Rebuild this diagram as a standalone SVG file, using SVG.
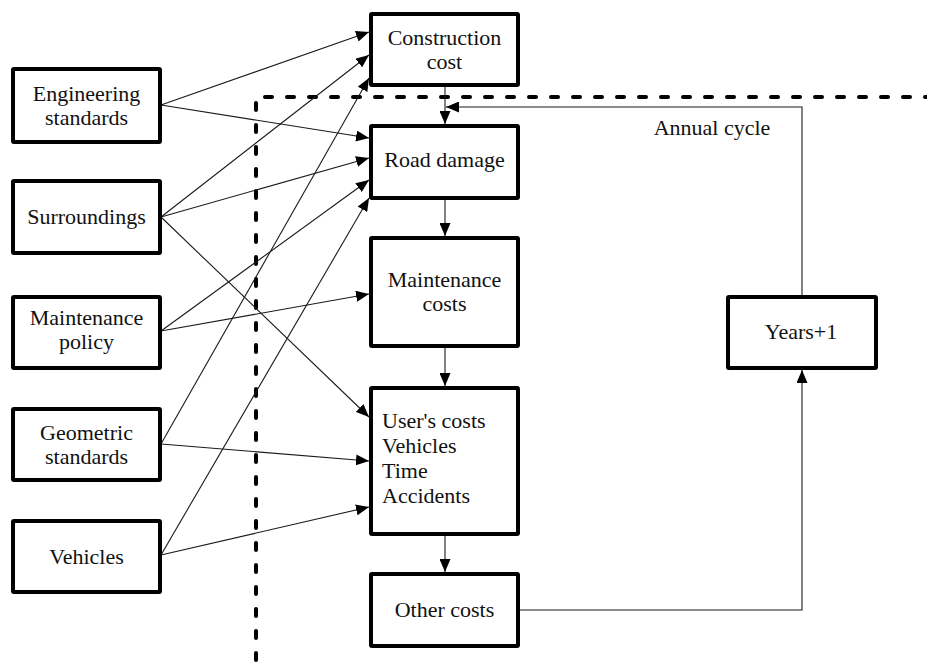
<svg xmlns="http://www.w3.org/2000/svg" width="927" height="663" viewBox="0 0 927 663">
<style>
.box{fill:#fff;stroke:#000;stroke-width:4;stroke-linejoin:round}
text{font-family:'Liberation Serif','Times New Roman','DejaVu Serif',serif;font-size:22px;fill:#111}
.t{text-anchor:middle}
.tl{text-anchor:start}
.ca{fill:none;stroke:#1a1a1a;stroke-width:1.1;marker-end:url(#ah)}
.dash{fill:none;stroke:#000;stroke-width:4;stroke-dasharray:7 15;stroke-linecap:round;stroke-linejoin:round}
</style>
<defs>
<marker id="ah" markerUnits="userSpaceOnUse" markerWidth="13" markerHeight="11" refX="13" refY="5.5" orient="auto">
<path d="M0,0 L13,5.5 L0,11 z" fill="#000"/>
</marker>
</defs>
<rect width="927" height="663" fill="#fff"/>
<path class="dash" d="M256,660 L256,97 L927,97"/>
<g id="connectors">
<line class="ca" x1="161" y1="105" x2="369" y2="32"/>
<line class="ca" x1="161" y1="105" x2="369" y2="138"/>
<line class="ca" x1="161" y1="217" x2="369" y2="55"/>
<line class="ca" x1="161" y1="217" x2="369" y2="158"/>
<line class="ca" x1="161" y1="217" x2="369" y2="417"/>
<line class="ca" x1="161" y1="331" x2="369" y2="180"/>
<line class="ca" x1="161" y1="331" x2="369" y2="294"/>
<line class="ca" x1="161" y1="444" x2="369" y2="78"/>
<line class="ca" x1="161" y1="444" x2="369" y2="461"/>
<line class="ca" x1="161" y1="555" x2="369" y2="198"/>
<line class="ca" x1="161" y1="555" x2="369" y2="507"/>
<line class="ca" x1="445" y1="87" x2="445" y2="124"/>
<line class="ca" x1="445" y1="200" x2="445" y2="236"/>
<line class="ca" x1="445" y1="348" x2="445" y2="386"/>
<line class="ca" x1="445" y1="536" x2="445" y2="572"/>
<polyline class="ca" points="520,610 802,610 802,370"/>
<polyline class="ca" points="802,295 802,107 446,107"/>
</g>
<g id="engineering-standards">
<rect class="box" x="13" y="69" width="147" height="73" rx="1"/>
<text class="t" x="86.5" y="101" font-family="Liberation Serif, serif">Engineering</text>
<text class="t" x="86.5" y="125" font-family="Liberation Serif, serif">standards</text>
</g>
<g id="surroundings">
<rect class="box" x="13" y="181" width="147" height="72" rx="1"/>
<text class="t" x="86.5" y="224">Surroundings</text>
</g>
<g id="maintenance-policy">
<rect class="box" x="13" y="297" width="147" height="71" rx="1"/>
<text class="t" x="86.5" y="325">Maintenance</text>
<text class="t" x="86.5" y="349">policy</text>
</g>
<g id="geometric-standards">
<rect class="box" x="13" y="409" width="147" height="71" rx="1"/>
<text class="t" x="86.5" y="440">Geometric</text>
<text class="t" x="86.5" y="464">standards</text>
</g>
<g id="vehicles">
<rect class="box" x="13" y="521" width="147" height="71" rx="1"/>
<text class="t" x="86.5" y="564">Vehicles</text>
</g>
<g id="construction-cost">
<rect class="box" x="371" y="14" width="147" height="71" rx="1"/>
<text class="t" x="444.5" y="45">Construction</text>
<text class="t" x="444.5" y="69">cost</text>
</g>
<g id="road-damage">
<rect class="box" x="371" y="126" width="147" height="72" rx="1"/>
<text class="t" x="444.5" y="167">Road damage</text>
</g>
<g id="maintenance-costs">
<rect class="box" x="371" y="238" width="147" height="108" rx="1"/>
<text class="t" x="444.5" y="287">Maintenance</text>
<text class="t" x="444.5" y="311">costs</text>
</g>
<g id="users-costs">
<rect class="box" x="371" y="388" width="147" height="146" rx="1"/>
<text class="tl" x="382" y="428">User's costs</text>
<text class="tl" x="382" y="453">Vehicles</text>
<text class="tl" x="382" y="478">Time</text>
<text class="tl" x="382" y="503">Accidents</text>
</g>
<g id="other-costs">
<rect class="box" x="371" y="574" width="147" height="72" rx="1"/>
<text class="t" x="444.5" y="617">Other costs</text>
</g>
<g id="years-plus-1">
<rect class="box" x="728" y="297" width="148" height="71" rx="1"/>
<text class="t" x="801" y="339">Years+1</text>
</g>
<g id="annual-cycle-label">
<text class="t" x="712" y="135">Annual cycle</text>
</g>
</svg>
